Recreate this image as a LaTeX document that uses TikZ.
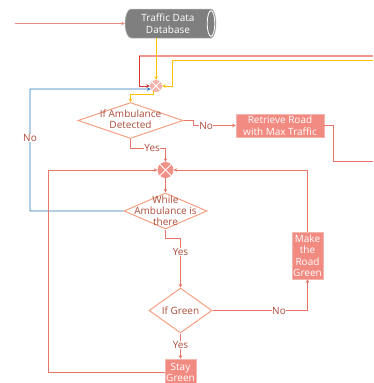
\documentclass[tikz,border=0pt]{standalone}
\usepackage{fontspec}
\setmainfont{Open Sans}
\usetikzlibrary{arrows.meta,shapes.geometric}
\definecolor{conn}{RGB}{232,118,104}
\definecolor{diaedge}{RGB}{245,160,130}
\definecolor{txt}{RGB}{172,76,58}
\definecolor{boxfill}{RGB}{241,139,130}
\definecolor{juncA}{RGB}{245,178,172}
\definecolor{juncB}{RGB}{241,145,136}
\definecolor{yel}{RGB}{255,192,0}
\definecolor{blu}{RGB}{40,120,190}
\definecolor{redd}{RGB}{214,52,44}
\definecolor{pinkl}{RGB}{240,150,140}
\definecolor{dbgray}{RGB}{127,127,127}
\tikzset{
  every node/.style={font=\fontsize{10}{11.5}\selectfont},
  tip/.style={-{Stealth[length=3.5pt,width=3.5pt]}},
  conn/.style={draw=conn, line width=0.8pt, tip},
  dia/.style={diamond, draw=diaedge, fill=white, line width=1pt, inner sep=0pt},
  diatext/.style={text=txt, align=center, font=\fontsize{10}{10.8}\selectfont},
  box/.style={rectangle, fill=boxfill, draw=pinkl!70!white, line width=0.5pt, text=white, align=center, inner sep=0pt},
  lbl/.style={fill=white, text=txt, inner sep=0.5pt},
  junc/.style={circle, inner sep=0pt},
}
\begin{document}
\begin{tikzpicture}[x=1pt,y=-1pt]
\useasboundingbox (0,0) rectangle (373,383);
% database cylinder
\fill[dbgray, draw=gray!55, line width=0.5pt] (131,9) -- (211,9)
  arc[start angle=-90, end angle=90, x radius=5, y radius=14.5] -- (131,38)
  arc[start angle=90, end angle=270, x radius=6, y radius=14.5] -- cycle;
\draw[white, line width=0.8pt] (211,23.5) ellipse[x radius=3.8, y radius=12.8];
\node[text=white, align=center, minimum width=86pt, minimum height=29pt, inner sep=0pt] (db) at (168,23.5) {Traffic Data\\Database};

% junctions
\node[junc, fill=juncA, minimum size=12pt] (j1) at (156,86) {};
\foreach \a in {45,135} \draw[white, line width=0.8pt] (j1.\a) -- (j1.\a+180);
\node[junc, fill=juncB, minimum size=16pt] (j2) at (165.5,170) {};
\foreach \a in {45,135} \draw[white, line width=0.8pt] (j2.\a) -- (j2.\a+180);

% decision shapes
\node[dia, minimum width=105pt, minimum height=36pt] (amb) at (130.5,120.5) {};
\node[diatext] at (130.5,119.5) {If Ambulance\\Detected};
\node[dia, minimum width=83pt, minimum height=36pt] (while) at (165.5,211) {};
\node[diatext] at (165.5,210.5) {While\\Ambulance is\\there};
\node[dia, minimum width=63pt, minimum height=45pt] (green) at (180.5,310.5) {};
\node[diatext] at (180.5,310.5) {If Green};

% process boxes
\node[box, minimum width=88pt, minimum height=23pt] (retr) at (280,125.5) {Retrieve Road\\with Max Traffic};
\node[box, minimum width=31pt, minimum height=47pt] (make) at (307.5,255.5) {Make\\the\\Road\\Green};
\node[box, minimum width=31pt, minimum height=27pt] (stay) at (180.5,372.5) {Stay\\Green};

% free ends
\coordinate (lin) at (15,23.5);
\coordinate (rc) at (139,56);
\coordinate (rtop) at (373,56);
\coordinate (yc) at (172,60);
\coordinate (yr) at (373,60);
\coordinate (bl) at (30,89);
\coordinate (rout) at (373,161);
\coordinate (ll) at (48,170);

% top connectors
\draw[conn, draw=conn!85!white] (lin) -- (db.west);
\draw[pinkl, line width=1.6pt] (rtop) -- (rc);
\draw[conn, draw=redd] (rc) |- (j1.west);
\draw[conn, draw=yel] (j1 |- db.south) -- (j1.north);
\draw[conn, draw=yel] (yr) -- (yc) |- (j1.east);
\draw[conn, draw=blu] (while.west) -| node[lbl, pos=0.80]{No} (bl) -- (j1.210);
\draw[conn, draw=yel] (j1.240) -- ++(0,3.5) -| (amb.north);

% main flow
\draw[conn] (amb.east) -- ++(10,0) |- node[lbl, pos=0.65]{No} (retr.west);
\draw[conn, -] (retr.east) -- ++(9,0) |- (rout);
\draw[conn] (amb.south) -- ++(0,9) -| node[lbl, pos=0.31]{Yes} (j2.north);
\draw[conn] (j2.south) -- (while.north);
\draw[conn] (while.south) -- ++(0,9) -| node[lbl, pos=0.64]{Yes} (green.north);
\draw[conn] (green.east) -| node[lbl, pos=0.35]{No} (make.south);
\draw[conn] (green.south) -- node[lbl, pos=0.46]{Yes} (stay.north);
\draw[conn] (make.north) |- (j2.east);
\draw[conn] (stay.west) -| (ll) -- (j2.west);
\end{tikzpicture}
\end{document}
